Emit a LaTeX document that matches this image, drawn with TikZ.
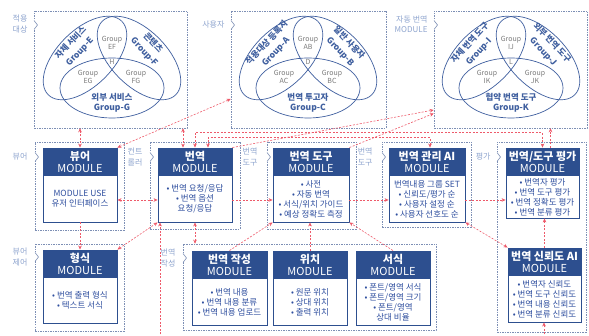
\documentclass[tikz,border=0pt]{standalone}
\usepackage{fontspec}
\setmainfont{Noto Sans CJK KR}
\usetikzlibrary{arrows.meta,calc}
\definecolor{navy}{HTML}{2D4F8F}
\definecolor{bodyblue}{HTML}{2F4F9F}
\definecolor{framecol}{HTML}{7D8FB5}
\definecolor{lblcol}{HTML}{8FA5CF}
\definecolor{redc}{HTML}{EE5A6A}
\definecolor{vennc}{HTML}{3F5F9F}
\definecolor{grpc}{HTML}{7A7A7A}
\tikzset{
  modbox/.style={draw=navy, line width=0.9pt, fill=white, inner sep=0pt},
  headtxt/.style={text=white, font=\fontsize{11}{12}\selectfont, align=center},
  bodytxt/.style={text=bodyblue, font=\fontsize{8.5}{10}\selectfont, align=center},
  frmbox/.style={draw=framecol, dash pattern=on 1.5pt off 1pt, line width=0.6pt, inner sep=0pt},
  lbl/.style={text=lblcol, font=\fontsize{8}{10.5}\selectfont, align=right, anchor=east},
  rl/.style={draw=redc, line width=0.6pt, dash pattern=on 2pt off 1.5pt},
  vennline/.style={draw=vennc, line width=0.7pt},
  gname/.style={text=vennc, font=\fontsize{8.5}{10}\selectfont\bfseries, align=center, inner sep=0pt},
  gsmall/.style={text=grpc, font=\fontsize{7}{8.5}\selectfont, align=center, inner sep=0pt},
}
\newcommand\framebx[6]{%
  \node[frmbox, minimum width={(#4-#2)*1pt}, minimum height={(#5-#3)*1pt}] (#1) at ({(#2+#4)/2},{(#3+#5)/2}) {};
  \fill[white] (#2-1,#6-4.5) rectangle (#2+1,#6+4.5);
  \draw[framecol, line width=0.6pt] (#2,#6-4.5) -- (#2+3.5,#6) -- (#2,#6+4.5);
}
\newcommand\modbx[7]{%
  \node[modbox, minimum width={(#4-#2)*1pt}, minimum height={(#5-#3)*1pt}] (#1) at ({(#2+#4)/2},{(#3+#5)/2}) {};
  \fill[navy] (#2,#3) rectangle (#4,#3+28);
  \draw[navy, line width=0.9pt] (#2,#3) rectangle (#4,#5);
  \node[headtxt] at ({(#2+#4)/2},#3+14) {\textbf{#6}\\MODULE};
  \node[bodytxt] at ({(#2+#4)/2},{(#3+28+#5)/2}) {#7};
}
\newcommand\venndiag[9]{%
  \begin{scope}[shift={(#1,0)}]
    \draw[vennline, rotate around={45:(85,58)}] (85,58) ellipse [x radius=52, y radius=28];
    \draw[vennline, rotate around={-45:(139,58)}] (139,58) ellipse [x radius=52, y radius=28];
    \draw[vennline] (112,88) ellipse [x radius=52, y radius=30];
    \node[gname, rotate=47] at (70.5,42.5) {#2};
    \node[gname, rotate=47] at (80,52) {#3};
    \node[gname, rotate=-47] at (153.5,42.5) {#4};
    \node[gname, rotate=-47] at (144,52) {#5};
    \node[gname] at (112,103) {#6};
    \node[gsmall] at (112,43) {Group\\#7};
    \node[gsmall] at (88,77) {Group\\#8};
    \node[gsmall] at (136,77) {Group\\#9};
    \node[gsmall] at (112,62) {\vletter};
  \end{scope}
}
\begin{document}
\begin{tikzpicture}[x=1pt,y=-1pt,>={Stealth[length=4pt,width=3.6pt]}]
\useasboundingbox (0,0) rectangle (589,336);
\fill[white] (0,0) rectangle (589,336);

% frames
\framebx{F1}{34}{11}{187}{128}{25}
\framebx{F2}{231}{11}{386}{128}{25}
\framebx{F3}{434}{11}{587}{128}{25}
\framebx{Fv}{35}{142}{124}{230}{157}
\framebx{Fc}{150}{142}{240}{229}{157}
\framebx{Ft}{267}{142}{356}{229}{157}
\framebx{Fa}{382}{142}{471}{227}{157}
\framebx{Fe}{497}{142}{586}{332}{157}
\framebx{Fvc}{35}{244}{124}{331}{257}
\framebx{Fw}{183}{244}{436}{330}{258}

% frame labels
\node[lbl] (l1) at (31,24) {적용\\대상};
\node[lbl] (l2) at (228,25) {사용자};
\node[lbl] (l3) at (431,24) {자동 번역\\MODULE};
\node[lbl] (l4) at (31,157) {뷰어};
\node[lbl] (l5) at (146,157) {컨트\\롤러};
\node[lbl] (l6) at (261,157) {번역\\도구};
\node[lbl] (l7) at (376,157) {번역\\도구};
\node[lbl] (l8) at (494,157) {평가};
\node[lbl] (l9) at (31,257) {뷰어\\제어};
\node[lbl] (l10) at (179,258) {번역\\작성};

% venn diagrams
\def\vletter{H}
\venndiag{0}{자체 서비스}{Group-E}{콘텐츠}{Group-F}{외부 서비스\\Group-G}{EF}{EG}{FG}
\def\vletter{D}
\venndiag{196}{적용대상 등록자}{Group-A}{일반 사용자}{Group-B}{번역 투고자\\Group-C}{AB}{AC}{BC}
\def\vletter{L}
\venndiag{399}{자체 번역 도구}{Group-I}{외부 번역 도구}{Group-J}{협약 번역 도구\\Group-K}{IJ}{IK}{JK}

% modules
\modbx{vw}{43}{148}{117}{222}{뷰어}{MODULE USE\\유저 인터페이스}
\modbx{tr}{158}{148}{232}{222}{번역}{• 번역 요청/응답\\• 번역 옵션\\요청/응답}
\modbx{tt}{273}{148}{349}{222}{번역 도구}{• 사전\\• 자동 번역\\• 서식/위치 가이드\\• 예상 정확도 측정}
\modbx{ai}{389}{148}{465}{222}{번역 관리 AI}{번역내용 그룹 SET\\• 신뢰도/평가 순\\• 사용자 설정 순\\• 사용자 선호도 순}
\modbx{ev}{506}{148}{579}{218}{번역/도구 평가}{• 번역자 평가\\• 번역 도구 평가\\• 번역 정확도 평가\\• 번역 분류 평가}
\modbx{fm}{43}{250}{117}{323}{형식}{• 번역 출력 형식\\• 텍스트 서식}
\modbx{wr}{192}{251}{267}{325}{번역 작성}{• 번역 내용\\• 번역 내용 분류\\• 번역 내용 업로드}
\modbx{ps}{273}{251}{347}{325}{위치}{• 원문 위치\\• 상대 위치\\• 출력 위치}
\modbx{st}{356}{251}{430}{325}{서식}{• 폰트/영역 서식\\• 폰트/영역 크기\\• 폰트/영역\\상대 비율}
\modbx{rl}{508}{248}{581}{322}{번역 신뢰도 AI}{• 번역자 신뢰도\\• 번역 도구 신뢰도\\• 번역 내용 신뢰도\\• 번역 분류 신뢰도}

\coordinate (botA) at (160,345);
\coordinate (botB) at (544,345);

% connectors
\draw[rl,<->] (vw.north |- F1.south) -- (vw.north);
\draw[rl,<->] ([xshift=-12pt]tr.north |- F1.south) -- ([xshift=-12pt]tr.north);
\draw[rl,<->] (vw.north east) -- ([yshift=-29.5pt]F2.west);
\draw[rl,<->] (fm.north east) -- (tr.south west);
\draw[rl,->] (vw.south) -- (fm.north);
\draw[rl,<->] ([yshift=-15pt]vw.east) -- ([yshift=-15pt]tr.west);
\draw[rl,<->] (tr.north) -- ++(0,-15) -| (ev.north);
\draw[rl,<->] ([xshift=13pt]tr.north) -- ++(0,-10) -| ([xshift=3pt]ai.north);
\draw[rl,->] (tr.north east) -- ([yshift=-40.5pt]F3.west);
\draw[rl,->] (tt.north east) -- ([yshift=-44pt]F3.west);
\draw[rl,->] ([yshift=-15pt]tr.east) -- ([yshift=-15pt]tt.west);
\draw[rl,->] ([yshift=-15pt]tt.east) -- ([yshift=-15pt]ai.west);
\draw[rl,->] ([yshift=-15pt]ai.east) -- ([yshift=-15pt]ai.east -| ev.west);
\draw[rl,<->] (tr.south) -- (tr.south |- Fw.north);
\draw[rl,->] (botA) -- (botA |- tr.south);
\draw[rl,->] (botB) -- (botB |- rl.south);
\draw[rl,->] (wr.north) -- (tt.south west);
\draw[rl,->] (ps.north) -- (ps.north |- tt.south);
\draw[rl,->] (st.north) -- (tt.south east);
\draw[rl,<->] (ai.south east) -- (rl.north west);
\draw[rl,->] (rl.north) -- (rl.north |- ev.south);
\draw[rl,->] ([xshift=8pt]ev.north) -- ([xshift=8pt]ev.north |- F3.south);
\end{tikzpicture}
\end{document}
